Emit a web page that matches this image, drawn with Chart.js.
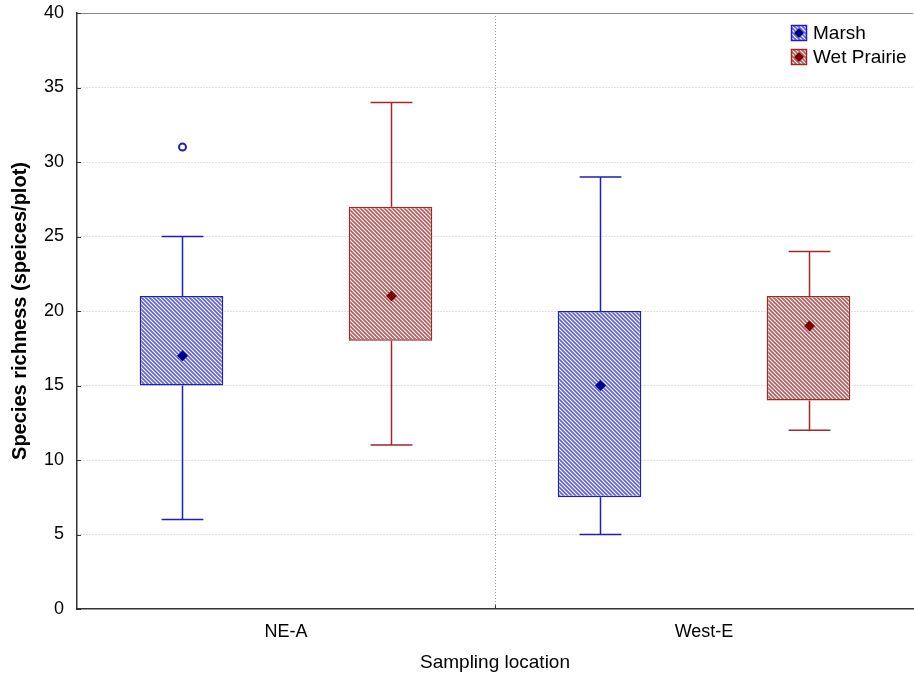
<!DOCTYPE html>
<html>
<head>
<meta charset="utf-8">
<script src="https://cdn.jsdelivr.net/npm/chart.js@4/dist/chart.umd.min.js"></script>
<style>
  html, body { margin: 0; padding: 0; background: #fff; }
  #wrap { width: 914px; height: 676px; }
</style>
</head>
<body>
<div id="wrap"><canvas id="boxChart"></canvas></div>
<script>
// data
const categories = ['NE-A', 'West-E'];
const yTicks = [0, 5, 10, 15, 20, 25, 30, 35, 40];

const marshMin = [6, 5];
const marshQ1 = [15, 7.5];
const marshMid = [17, 15];
const marshQ3 = [21, 20];
const marshMax = [25, 29];
const marshOutliers = [[31], []];

const prairieMin = [11, 12];
const prairieQ1 = [18, 14];
const prairieMid = [21, 19];
const prairieQ3 = [27, 21];
const prairieMax = [34, 24];
const prairieOutliers = [[], []];

const FONT = "'Liberation Sans', Arial, sans-serif";

const hatch = (line) => {
    let c = document.createElement('canvas');
    c.width = 4; c.height = 4;
    let g = c.getContext('2d');
    g.fillStyle = '#fff';
    g.fillRect(0, 0, 4, 4);
    g.strokeStyle = line;
    g.lineWidth = 1.7;
    g.beginPath();
    g.moveTo(-1, -1); g.lineTo(5, 5);
    g.moveTo(-1, 3); g.lineTo(1, 5);
    g.moveTo(3, -1); g.lineTo(5, 1);
    g.stroke();
    return g.createPattern(c, 'repeat');
};

const series = [
    { label: 'Marsh', line: '#1e1eb8', mark: '#000090', hatch: '#6262d2',
      min: marshMin, q1: marshQ1, mid: marshMid, q3: marshQ3, max: marshMax, out: marshOutliers },
    { label: 'Wet Prairie', line: '#a02828', mark: '#800000', hatch: '#b45c5c',
      min: prairieMin, q1: prairieQ1, mid: prairieMid, q3: prairieQ3, max: prairieMax, out: prairieOutliers }
];

const diamond = (ctx, x, y, r, color) => {
    ctx.fillStyle = color;
    ctx.beginPath();
    ctx.moveTo(x, y - r); ctx.lineTo(x + r, y); ctx.lineTo(x, y + r); ctx.lineTo(x - r, y);
    ctx.closePath();
    ctx.fill();
};

const boxPlugin = {
    id: 'boxExtras',
    beforeDatasetsDraw(chart) {
        const ctx = chart.ctx, a = chart.chartArea, y = chart.scales.y;
        ctx.save();
        // top frame line
        ctx.strokeStyle = '#888';
        ctx.lineWidth = 1;
        ctx.beginPath();
        ctx.moveTo(a.left, a.top + 0.5); ctx.lineTo(a.right, a.top + 0.5);
        ctx.stroke();
        // small inward ticks
        ctx.strokeStyle = '#333';
        yTicks.forEach(v => {
            let py = Math.round(y.getPixelForValue(v)) + 0.5;
            ctx.beginPath(); ctx.moveTo(a.left, py); ctx.lineTo(a.left + 4, py); ctx.stroke();
        });
        let mx = Math.round((a.left + a.right) / 2) + 0.5;
        ctx.beginPath(); ctx.moveTo(mx, a.bottom); ctx.lineTo(mx, a.bottom - 4); ctx.stroke();
        ctx.restore();
    },
    afterDatasetsDraw(chart) {
        const ctx = chart.ctx, y = chart.scales.y;
        ctx.save();
        series.forEach((s, d) => {
            chart.getDatasetMeta(d).data.forEach((bar, i) => {
                let x = Math.round(bar.x) + 0.5;
                let half = bar.width / 4;
                let pMin = y.getPixelForValue(s.min[i]), pQ1 = y.getPixelForValue(s.q1[i]);
                let pQ3 = y.getPixelForValue(s.q3[i]), pMax = y.getPixelForValue(s.max[i]);
                ctx.strokeStyle = s.line;
                ctx.lineWidth = 1.5;
                ctx.beginPath();
                ctx.moveTo(x, pQ3); ctx.lineTo(x, pMax);
                ctx.moveTo(x - half, pMax); ctx.lineTo(x + half, pMax);
                ctx.moveTo(x, pQ1); ctx.lineTo(x, pMin);
                ctx.moveTo(x - half, pMin); ctx.lineTo(x + half, pMin);
                ctx.stroke();
                diamond(ctx, x, y.getPixelForValue(s.mid[i]), 5.5, s.mark);
                s.out[i].forEach(v => {
                    ctx.lineWidth = 2;
                    ctx.beginPath();
                    ctx.arc(x, y.getPixelForValue(v), 3.5, 0, Math.PI * 2);
                    ctx.stroke();
                });
            });
        });
        // legend
        ctx.font = '19px ' + FONT;
        ctx.textBaseline = 'middle';
        series.forEach((s, d) => {
            let lx = 791, ly = 25 + d * 24;
            ctx.fillStyle = hatch(s.hatch);
            ctx.fillRect(lx, ly, 16, 16);
            ctx.strokeStyle = s.line;
            ctx.lineWidth = 1.5;
            ctx.strokeRect(lx + 0.5, ly + 0.5, 15, 15);
            diamond(ctx, lx + 8, ly + 8, 5, s.mark);
            ctx.fillStyle = '#000';
            ctx.fillText(s.label, lx + 22, ly + 9);
        });
        ctx.restore();
    }
};

const chartInicio = () => {
    new Chart(document.getElementById('boxChart'), {
        type: 'bar',
        data: {
            labels: categories,
            datasets: series.map(s => ({
                label: s.label,
                data: categories.map((c, i) => [s.q1[i], s.q3[i]]),
                backgroundColor: hatch(s.hatch),
                borderColor: s.line,
                borderWidth: 1.5,
                borderSkipped: false,
                categoryPercentage: 1.0,
                barPercentage: 0.4
            }))
        },
        options: {
            responsive: true,
            maintainAspectRatio: false,
            animation: false,
            layout: { padding: { top: 13, right: 1, left: 0, bottom: 0 } },
            plugins: { legend: { display: false }, tooltip: { enabled: false } },
            scales: {
                x: {
                    grid: {
                        offset: true,
                        drawTicks: false,
                        color: (c) => c.index === 1 ? '#999' : 'rgba(0,0,0,0)',
                        lineWidth: 1
                    },
                    border: { display: true, color: '#333', width: 1.5, dash: [1, 2] },
                    ticks: { padding: 12, color: '#000', font: { family: FONT, size: 18 } },
                    title: { display: true, text: 'Sampling location', color: '#000',
                             font: { family: FONT, size: 19 }, padding: { top: 0, bottom: 2 } },
                    afterFit: (scale) => { scale.height = 67; }
                },
                y: {
                    min: 0, max: 40,
                    afterBuildTicks: (scale) => { scale.ticks = yTicks.map(v => ({ value: v })); },
                    grid: {
                        drawTicks: false,
                        color: (c) => (c.tick && (c.tick.value === 0 || c.tick.value === 40)) ? 'rgba(0,0,0,0)' : '#c0c0c0',
                        lineWidth: 1
                    },
                    border: { display: true, color: '#333', width: 1.5, dash: [1, 2] },
                    ticks: { padding: 13, color: '#000', font: { family: FONT, size: 18 } },
                    title: { display: true, text: 'Species richness (speices/plot)', color: '#000',
                             font: { family: FONT, size: 20, weight: 'bold' }, padding: { top: 8, bottom: 0 } },
                    afterFit: (scale) => { scale.width = 77; scale.paddingTop = 0; scale.paddingBottom = 0; }
                }
            }
        },
        plugins: [boxPlugin]
    });
};

chartInicio();
</script>
</body>
</html>
